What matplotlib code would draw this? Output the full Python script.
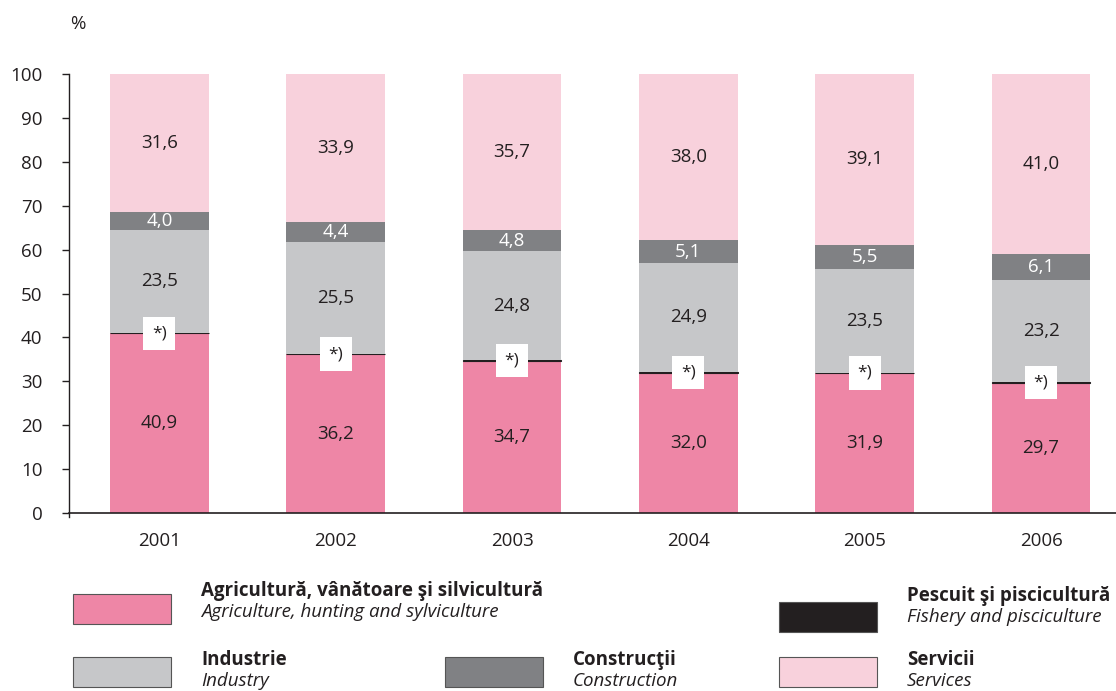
import matplotlib
matplotlib.use('Agg')
import matplotlib.pyplot as plt
from matplotlib.patches import Rectangle
import numpy as np

plt.rcParams['font.family'] = ['Open Sans', 'DejaVu Sans']

years = ['2001', '2002', '2003', '2004', '2005', '2006']
agricultura = [40.9, 36.2, 34.7, 32.0, 31.9, 29.7]
pescuit = [0.1, 0.1, 0.1, 0.1, 0.1, 0.1]  # sub 0,1% - marcat cu *)
industrie = [23.5, 25.5, 24.8, 24.9, 23.5, 23.2]
constructii = [4.0, 4.4, 4.8, 5.1, 5.5, 6.1]
servicii = [31.6, 33.9, 35.7, 38.0, 39.1, 41.0]

c_agr = '#ee86a6'
c_pes = '#231f20'
c_ind = '#c6c7c9'
c_con = '#808184'
c_ser = '#f8d1dc'
txt = '#231f20'
fs = 13.5

fig = plt.figure(figsize=(11.16, 6.91), dpi=100)
ax = fig.add_axes([0.0618, 0.2576, 0.9382, 0.6353])

x = np.arange(len(years))
w = 0.56
agr = np.array(agricultura)
pes = np.array(pescuit)
ind = np.array(industrie)
con = np.array(constructii)
ser = np.array(servicii)

ax.bar(x, agr, w, color=c_agr, edgecolor='none')
ax.bar(x, pes, w, bottom=agr, color=c_pes, edgecolor=c_pes, linewidth=0.8)
b2 = agr + pes
ax.bar(x, ind, w, bottom=b2, color=c_ind, edgecolor='none')
b3 = b2 + ind
ax.bar(x, con, w, bottom=b3, color=c_con, edgecolor='none')
b4 = b3 + con
ax.bar(x, ser, w, bottom=b4, color=c_ser, edgecolor='none')

def fmt(v):
    return ('%.1f' % v).replace('.', ',')

for i in range(len(years)):
    ax.text(x[i], agr[i] / 2, fmt(agr[i]), ha='center', va='center', fontsize=fs, color=txt)
    ax.text(x[i], b2[i] + ind[i] / 2, fmt(ind[i]), ha='center', va='center', fontsize=fs, color=txt)
    ax.text(x[i], b3[i] + con[i] / 2, fmt(con[i]), ha='center', va='center', fontsize=fs, color='white')
    ax.text(x[i], b4[i] + ser[i] / 2, fmt(ser[i]), ha='center', va='center', fontsize=fs, color=txt)
    ax.text(x[i], agr[i], '*)', ha='center', va='center', fontsize=12.5, color=txt,
            bbox=dict(boxstyle='square,pad=0.5', facecolor='white', edgecolor='none'))

ax.set_xlim(-0.513, 5.425)
ax.set_ylim(0, 100)
ax.set_yticks(range(0, 101, 10))
ax.set_xticks(x)
ax.set_xticklabels(years)
ax.tick_params(axis='x', length=0, pad=14, labelsize=fs, colors=txt)
ax.tick_params(axis='y', length=5, width=1, pad=14, labelsize=fs, colors=txt)
ax.spines['top'].set_visible(False)
ax.spines['right'].set_visible(False)
ax.spines['left'].set_color(txt)
ax.spines['bottom'].set_color(txt)
ax.spines['left'].set_bounds(-0.8, 100)
ax.spines['left'].set_linewidth(1)
ax.spines['bottom'].set_linewidth(1.2)
fig.text(78 / 1116, 1 - 24 / 691, '%', fontsize=fs, color=txt, ha='center', va='center')

# legenda
W, H = 1116.0, 691.0
legend = [
    (73, 594, c_agr, 'Agricultură, vânătoare şi silvicultură', 'Agriculture, hunting and sylviculture', 591),
    (779, 602, c_pes, 'Pescuit şi piscicultură', 'Fishery and pisciculture', 596),
    (73, 657, c_ind, 'Industrie', 'Industry', 660),
    (445, 657, c_con, 'Construcţii', 'Construction', 660),
    (779, 657, c_ser, 'Servicii', 'Services', 660),
]
for px, py, col, ro, en, ty in legend:
    fig.patches.append(Rectangle((px / W, 1 - (py + 30) / H), 98 / W, 30 / H,
                                 transform=fig.transFigure, facecolor=col,
                                 edgecolor='#555555', linewidth=0.8))
    fig.text((px + 128) / W, 1 - ty / H, ro, fontsize=13.5, fontweight='bold',
             color=txt, ha='left', va='center')
    fig.text((px + 128) / W, 1 - (ty + 21) / H, en, fontsize=13.5, style='italic',
             color=txt, ha='left', va='center')

fig.savefig('out.png', dpi=100)
